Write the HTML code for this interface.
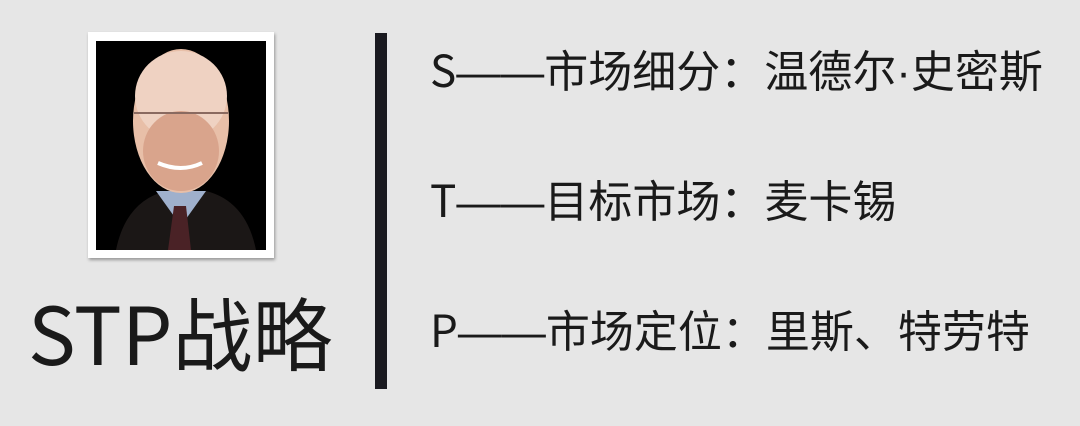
<!DOCTYPE html>
<html><head><meta charset="utf-8"><style>
body{margin:0;width:1080px;height:426px;background:#e6e6e6;position:relative;overflow:hidden;font-family:"Noto Sans CJK SC","Liberation Sans",sans-serif;color:#1a1a1a}
.frame{position:absolute;left:88px;top:32px;width:186px;height:226px;background:#fff;box-shadow:1px 2px 3px rgba(0,0,0,.35)}
.photo{position:absolute;left:8px;top:9px;width:170px;height:209px;background:#000;overflow:hidden}
.bar{position:absolute;left:375px;top:33px;width:12px;height:356px;background:#1a1a20}
.title{position:absolute;left:28px;top:286px;font-size:80px;line-height:90px;white-space:nowrap}
.t{position:absolute;left:430px;font-size:44px;line-height:56px;white-space:nowrap}
.l{font-family:"Liberation Sans",sans-serif}
</style></head><body>
<div class="frame"><div class="photo">
<svg width="170" height="209" viewBox="0 0 170 209">
<rect width="170" height="209" fill="#000"/>
<path d="M20 209 Q30 160 70 150 L110 150 Q150 160 160 209Z" fill="#1b1716"/>
<path d="M60 150 L85 185 L110 150Z" fill="#9fb0cc"/>
<path d="M78 165 L90 165 L95 209 L72 209Z" fill="#4a2226"/>
<ellipse cx="85" cy="80" rx="48" ry="72" fill="#e8bfa8"/>
<ellipse cx="85" cy="55" rx="46" ry="45" fill="#efd2c2"/>
<ellipse cx="85" cy="110" rx="38" ry="40" fill="#d9a48c"/>
<path d="M38 72 H132" stroke="#8a6a60" stroke-width="2"/>
<path d="M62 122 Q85 132 106 122" stroke="#fff" stroke-width="4" fill="none"/>
</svg></div></div>
<div class="title">STP战略</div>
<div class="bar"></div>
<div class="t" style="top:40px">S<span class="l">——</span>市场细分：温德尔<span class="l">·</span>史密斯</div>
<div class="t" style="top:170px">T<span class="l">——</span>目标市场：麦卡锡</div>
<div class="t" style="top:300px">P<span class="l">——</span>市场定位：里斯、特劳特</div>
</body></html>
